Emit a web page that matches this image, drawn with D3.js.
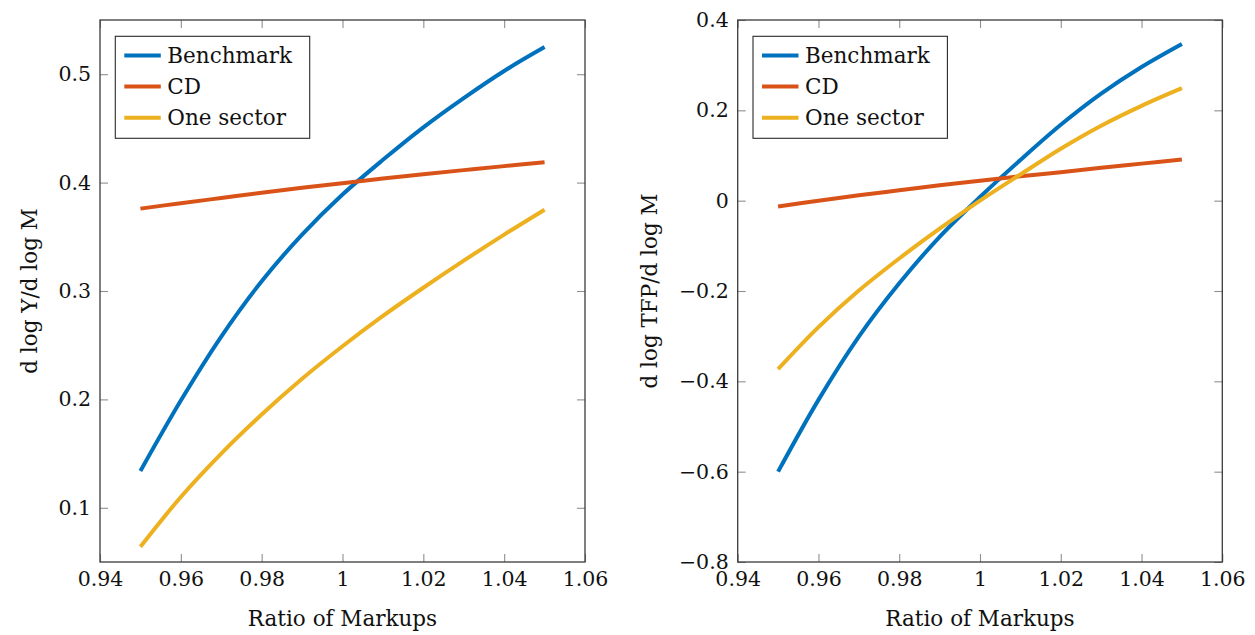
<!DOCTYPE html>
<html>
<head>
<meta charset="utf-8">
<script src="https://cdn.jsdelivr.net/npm/d3@7"></script>
<style>
  html, body { margin: 0; padding: 0; background: #fff; }
  svg { display: block; }
  text { font-family: "DejaVu Serif", "Liberation Serif", serif; fill: #111; }
</style>
</head>
<body>
<svg id="chart" width="1255" height="635"></svg>
<script>
// ---------- data ----------
const markupRatio = [0.95, 0.96, 0.97, 0.98, 0.99, 1.00, 1.01, 1.02, 1.03, 1.04, 1.05];

const seriesNames = ["Benchmark", "CD", "One sector"];
const seriesColors = ["#0072BD", "#D95319", "#EDB120"];

// left panel: d log Y / d log M
const outBenchmark = [0.134, 0.199, 0.258, 0.309, 0.352, 0.389, 0.421, 0.451, 0.478, 0.503, 0.525];
const outCD        = [0.376, 0.381, 0.3858, 0.3906, 0.3952, 0.3995, 0.4037, 0.4077, 0.4115, 0.4152, 0.4187];
const outOneSector = [0.064, 0.110, 0.150, 0.186, 0.219, 0.249, 0.277, 0.303, 0.328, 0.352, 0.375];

// right panel: d log TFP / d log M
const tfpBenchmark = [-0.600, -0.441, -0.301, -0.183, -0.080, 0.008, 0.090, 0.168, 0.237, 0.296, 0.347];
const tfpCD        = [-0.013, 0.000, 0.012, 0.023, 0.034, 0.044, 0.054, 0.063, 0.073, 0.082, 0.091];
const tfpOneSector = [-0.373, -0.280, -0.199, -0.128, -0.062, 0.000, 0.058, 0.115, 0.166, 0.210, 0.249];

const xTickValues = [0.94, 0.96, 0.98, 1.00, 1.02, 1.04, 1.06];
const xTickLabels = ["0.94", "0.96", "0.98", "1", "1.02", "1.04", "1.06"];
const leftYTicks = [0.1, 0.2, 0.3, 0.4, 0.5];
const leftYTickLabels = ["0.1", "0.2", "0.3", "0.4", "0.5"];
const rightYTicks = [-0.8, -0.6, -0.4, -0.2, 0, 0.2, 0.4];
const rightYTickLabels = ["\u22120.8", "\u22120.6", "\u22120.4", "\u22120.2", "0", "0.2", "0.4"];

const xLabel = "Ratio of Markups";
const leftYLabel = "d log Y/d log M";
const rightYLabel = "d log TFP/d log M";

// ---------- drawing ----------
const svg = d3.select("#chart");

const panels = [
  { left: 100, right: 585, top: 20, bottom: 562, yDomain: [0.05, 0.55],
    yTicks: leftYTicks, yTickLabels: leftYTickLabels, yLabel: leftYLabel, yLabelX: 29,
    series: [outBenchmark, outCD, outOneSector] },
  { left: 737.7, right: 1222.3, top: 20, bottom: 562, yDomain: [-0.8, 0.4],
    yTicks: rightYTicks, yTickLabels: rightYTickLabels, yLabel: rightYLabel, yLabelX: 649,
    series: [tfpBenchmark, tfpCD, tfpOneSector] }
];

const tickFont = 20.5;
const labelFont = 21.5;
const tickLen = 8;
const tickColor = "#8f8f8f";
const frameColor = "#3b3b3b";

panels.forEach(p => {
  const x = d3.scaleLinear().domain([0.94, 1.06]).range([p.left, p.right]);
  const y = d3.scaleLinear().domain(p.yDomain).range([p.bottom, p.top]);
  const g = svg.append("g");

  const styleAxis = (sel) => {
    sel.select(".domain").remove();
    sel.selectAll(".tick line").attr("stroke", tickColor).attr("stroke-width", 1.1);
    sel.selectAll(".tick text")
      .attr("font-family", '"DejaVu Serif", "Liberation Serif", serif')
      .attr("font-size", tickFont).attr("fill", "#111");
  };

  g.append("g").attr("transform", `translate(0,${p.bottom})`)
    .call(d3.axisBottom(x).tickValues(xTickValues)
      .tickFormat((d, i) => xTickLabels[i]).tickSizeInner(-tickLen).tickSizeOuter(0).tickPadding(9))
    .call(styleAxis);
  g.append("g").attr("transform", `translate(0,${p.top})`)
    .call(d3.axisTop(x).tickValues(xTickValues).tickFormat("").tickSizeInner(-tickLen).tickSizeOuter(0))
    .call(styleAxis);
  g.append("g").attr("transform", `translate(${p.left},0)`)
    .call(d3.axisLeft(y).tickValues(p.yTicks)
      .tickFormat((d, i) => p.yTickLabels[i]).tickSizeInner(-tickLen).tickSizeOuter(0).tickPadding(9))
    .call(styleAxis);
  g.append("g").attr("transform", `translate(${p.right},0)`)
    .call(d3.axisRight(y).tickValues(p.yTicks).tickFormat("").tickSizeInner(-tickLen).tickSizeOuter(0))
    .call(styleAxis);

  g.append("rect")
    .attr("x", p.left).attr("y", p.top)
    .attr("width", p.right - p.left).attr("height", p.bottom - p.top)
    .attr("fill", "none").attr("stroke", frameColor).attr("stroke-width", 1.3);

  const line = d3.line()
    .x((d, i) => x(markupRatio[i]))
    .y(d => y(d))
    .curve(d3.curveCatmullRom.alpha(0.5));
  p.series.forEach((vals, k) => {
    g.append("path")
      .datum(vals)
      .attr("d", line)
      .attr("fill", "none")
      .attr("stroke", seriesColors[k])
      .attr("stroke-width", 4)
      .attr("stroke-linecap", "butt")
      .attr("stroke-linejoin", "round");
  });

  const lx = p.left + 15.3, ly = 36.3, lw = 194.4, lh = 102;
  const lg = g.append("g");
  lg.append("rect").attr("x", lx).attr("y", ly).attr("width", lw).attr("height", lh)
    .attr("fill", "#fff").attr("stroke", "#2a2a2a").attr("stroke-width", 1.1);
  seriesNames.forEach((name, k) => {
    const ry = ly + 19.2 + k * 31.1;
    lg.append("line").attr("x1", lx + 9).attr("x2", lx + 45.5)
      .attr("y1", ry).attr("y2", ry)
      .attr("stroke", seriesColors[k]).attr("stroke-width", 4);
    lg.append("text").attr("x", lx + 52).attr("y", ry).attr("dy", "0.36em")
      .attr("font-size", labelFont).text(name);
  });

  g.append("text")
    .attr("x", (p.left + p.right) / 2).attr("y", 626)
    .attr("text-anchor", "middle").attr("font-size", labelFont).text(xLabel);
  g.append("text")
    .attr("transform", `translate(${p.yLabelX},${(p.top + p.bottom) / 2}) rotate(-90)`)
    .attr("text-anchor", "middle").attr("dy", "0.36em")
    .attr("font-size", labelFont).text(p.yLabel);
});
</script>
</body>
</html>
